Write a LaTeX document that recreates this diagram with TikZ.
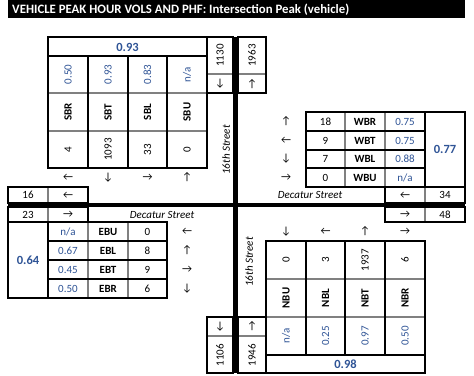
\documentclass[tikz,border=0pt]{standalone}
\usepackage{fontspec}
\setmainfont{Carlito}
\definecolor{phfblue}{RGB}{47,84,150}
\definecolor{gridgray}{RGB}{128,128,128}
\begin{document}
\begin{tikzpicture}[x=1pt,y=-1pt,
  blk/.style={draw=black,line width=1.8pt},
  gry/.style={draw=gridgray,line width=1.6pt},
  street/.style={draw=black,line width=4.6pt},
  t/.style={inner sep=0pt,font=\fontsize{11}{13}\selectfont},
  bt/.style={t,font=\fontsize{11}{13}\selectfont\bfseries},
  pv/.style={t,text=phfblue},
  pb/.style={t,text=phfblue,font=\fontsize{12.5}{14}\selectfont\bfseries},
  ar/.style={inner sep=0pt,font=\fontsize{11}{13}\selectfont},
  st/.style={t,font=\fontsize{11}{13}\selectfont\itshape},
  r/.style={rotate=90}]
\useasboundingbox (0,0) rectangle (474,375);
\fill[white] (0,0) rectangle (474,375);
% title
\fill[black] (8,0) rectangle (465,18);
\node[anchor=west,inner sep=0pt,text=white,font=\fontsize{12.8}{14}\selectfont\bfseries] (title) at (12,9.5) {VEHICLE PEAK HOUR VOLS AND PHF: Intersection Peak (vehicle)};
% streets
\draw[street] (235.5,37) -- (235.5,373);
\draw[street] (8,205) -- (465,205);
% ---------- SB table
\draw[gry] (48,93) -- (207,93) (48,131) -- (207,131);
\draw[blk] (48,56) -- (207,56);
\draw[blk] (88,56) -- (88,168) (128,56) -- (128,168) (167,56) -- (167,168);
\draw[blk] (48,37) rectangle (207,168);
\node[pb] (sbphf) at (127.5,47) {0.93};
\node[pv,r] (sbrp) at (68,74.5) {0.50};
\node[pv,r] (sbtp) at (108,74.5) {0.93};
\node[pv,r] (sblp) at (147.5,74.5) {0.83};
\node[pv,r] (sbup) at (187,74.5) {n/a};
\node[bt,r] (sbr) at (68,112) {SBR};
\node[bt,r] (sbt) at (108,112) {SBT};
\node[bt,r] (sbl) at (147.5,112) {SBL};
\node[bt,r] (sbu) at (187,112) {SBU};
\node[t,r] (sbrv) at (68,149.5) {4};
\node[t,r] (sbtv) at (108,149.5) {1093};
\node[t,r] (sblv) at (147.5,149.5) {33};
\node[t,r] (sbuv) at (187,149.5) {0};
\node[ar] (sbra) at (68,177.5) {←};
\node[ar] (sbta) at (108,177.5) {↓};
\node[ar] (sbla) at (147.5,177.5) {→};
\node[ar] (sbua) at (187,177.5) {↑};
% north leg totals
\draw[gry] (207,74) -- (233,74) (238,74) -- (266,74);
\draw[blk] (207,37) rectangle (233,93);
\draw[blk] (238,37) rectangle (266,93);
\node[t,r] (nout) at (220,55.5) {1130};
\node[ar] (nouta) at (220,84) {↓};
\node[t,r] (nin) at (252,55.5) {1963};
\node[ar] (nina) at (252,84) {↑};
\node[st,r] (st16n) at (226,150) {16th Street};
% ---------- WB table
\draw[gry] (345,112) -- (345,187) (385,112) -- (385,187);
\draw[blk] (306,131) -- (425,131) (306,150) -- (425,150) (306,168) -- (425,168);
\draw[blk] (425,112) -- (425,187);
\draw[blk] (306,112) rectangle (465,187);
\node[ar] (wbra) at (286,121.5) {↑};
\node[ar] (wbta) at (286,140.5) {←};
\node[ar] (wbla) at (286,159) {↓};
\node[ar] (wbua) at (286,177.5) {→};
\node[t] (wbrv) at (325.5,121.5) {18};
\node[t] (wbtv) at (325.5,140.5) {9};
\node[t] (wblv) at (325.5,159) {7};
\node[t] (wbuv) at (325.5,177.5) {0};
\node[bt] (wbr) at (365,121.5) {WBR};
\node[bt] (wbt) at (365,140.5) {WBT};
\node[bt] (wbl) at (365,159) {WBL};
\node[bt] (wbu) at (365,177.5) {WBU};
\node[pv] (wbrp) at (405,121.5) {0.75};
\node[pv] (wbtp) at (405,140.5) {0.75};
\node[pv] (wblp) at (405,159) {0.88};
\node[pv] (wbup) at (405,177.5) {n/a};
\node[pb] (wbphf) at (445,149.5) {0.77};
% ---------- west / east leg totals
\draw[gry] (48,187) -- (48,203) (48,207) -- (48,222) (425,187) -- (425,203) (425,207) -- (425,222);
\draw[blk] (8,187) rectangle (88,203);
\draw[blk] (8,207) rectangle (88,222);
\draw[blk] (385,187) rectangle (465,203);
\draw[blk] (385,207) rectangle (465,222);
\node[t] (wout) at (28,195) {16};
\node[ar] (wouta) at (68,195) {←};
\node[t] (win) at (28,214.5) {23};
\node[ar] (wina) at (68,214.5) {→};
\node[ar] (eina) at (405,195) {←};
\node[t] (ein) at (445,195) {34};
\node[ar] (eouta) at (405,214.5) {→};
\node[t] (eout) at (445,214.5) {48};
\node[st] (decw) at (162,214.5) {Decatur Street};
\node[st] (dece) at (310,195) {Decatur Street};
% ---------- EB table
\draw[gry] (88,222) -- (88,298) (128,222) -- (128,298);
\draw[blk] (48,241) -- (167,241) (48,260) -- (167,260) (48,279) -- (167,279);
\draw[blk] (48,222) -- (48,298);
\draw[blk] (8,222) rectangle (167,298);
\node[pb] (ebphf) at (28,260) {0.64};
\node[pv] (ebup) at (68,231.5) {n/a};
\node[pv] (eblp) at (68,250.5) {0.67};
\node[pv] (ebtp) at (68,269.5) {0.45};
\node[pv] (ebrp) at (68,288.5) {0.50};
\node[bt] (ebu) at (108,231.5) {EBU};
\node[bt] (ebl) at (108,250.5) {EBL};
\node[bt] (ebt) at (108,269.5) {EBT};
\node[bt] (ebr) at (108,288.5) {EBR};
\node[t] (ebuv) at (147.5,231.5) {0};
\node[t] (eblv) at (147.5,250.5) {8};
\node[t] (ebtv) at (147.5,269.5) {9};
\node[t] (ebrv) at (147.5,288.5) {6};
\node[ar] (ebua) at (187,231.5) {←};
\node[ar] (ebla) at (187,250.5) {↑};
\node[ar] (ebta) at (187,269.5) {→};
\node[ar] (ebra) at (187,288.5) {↓};
% ---------- NB table
\draw[gry] (266,279) -- (425,279) (266,317) -- (425,317);
\draw[blk] (306,241) -- (306,355) (345,241) -- (345,355) (385,241) -- (385,355);
\draw[blk] (266,355) -- (425,355);
\draw[blk] (266,241) rectangle (425,373);
\node[ar] (nbua) at (286,231.5) {↓};
\node[ar] (nbla) at (325.5,231.5) {←};
\node[ar] (nbta) at (365,231.5) {↑};
\node[ar] (nbra) at (405,231.5) {→};
\node[t,r] (nbuv) at (286,260) {0};
\node[t,r] (nblv) at (325.5,260) {3};
\node[t,r] (nbtv) at (365,260) {1937};
\node[t,r] (nbrv) at (405,260) {6};
\node[bt,r] (nbu) at (286,298) {NBU};
\node[bt,r] (nbl) at (325.5,298) {NBL};
\node[bt,r] (nbt) at (365,298) {NBT};
\node[bt,r] (nbr) at (405,298) {NBR};
\node[pv,r] (nbup) at (286,336) {n/a};
\node[pv,r] (nblp) at (325.5,336) {0.25};
\node[pv,r] (nbtp) at (365,336) {0.97};
\node[pv,r] (nbrp) at (405,336) {0.50};
\node[pb] (nbphf) at (345.5,364.5) {0.98};
% south leg totals
\draw[gry] (207,336) -- (233,336) (238,336) -- (266,336);
\draw[blk] (207,317) rectangle (233,373);
\draw[blk] (238,317) rectangle (266,373);
\node[ar] (souta) at (220,326.5) {↓};
\node[t,r] (sout) at (220,355) {1106};
\node[ar] (sina) at (252,326.5) {↑};
\node[t,r] (sin) at (252,355) {1946};
\node[st,r] (st16s) at (249,262) {16th Street};
\end{tikzpicture}
\end{document}
